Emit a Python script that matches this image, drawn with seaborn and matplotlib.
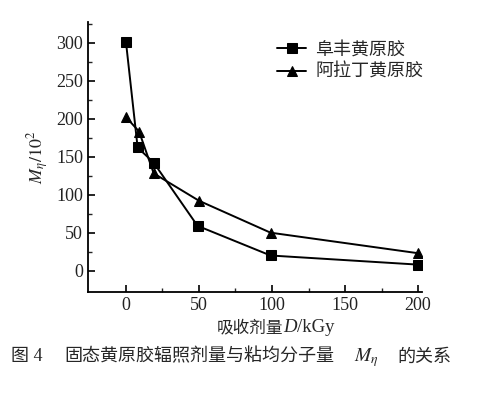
import seaborn as sns
import matplotlib.pyplot as plt
import pandas as pd

# absorbed dose (kGy) and viscosity-average molecular weight (x10^2)
dose_fufeng = [0, 8, 19, 49, 99, 200]
mw_fufeng = [301, 162, 142, 59, 20, 8]
dose_ala = [0, 9, 19, 50, 99, 200]
mw_ala = [202, 183, 128, 92, 50, 23]
series_names = ['阜丰黄原胶', '阿拉丁黄原胶']

df = pd.concat([
    pd.DataFrame({'dose': dose_fufeng, 'mw': mw_fufeng, 'sample': series_names[0]}),
    pd.DataFrame({'dose': dose_ala, 'mw': mw_ala, 'sample': series_names[1]}),
])

sns.set_style('ticks')
plt.rcParams['font.family'] = ['Liberation Serif', 'Noto Sans CJK SC']
plt.rcParams['mathtext.fontset'] = 'stix'
plt.rcParams['xtick.direction'] = 'in'
plt.rcParams['ytick.direction'] = 'in'

fig = plt.figure(figsize=(4.97, 3.93), dpi=100)
ax = fig.add_axes([0.177, 0.257, 0.673, 0.687])

sns.lineplot(data=df, x='dose', y='mw', style='sample', markers=['s', '^'],
             dashes=False, color='black', linewidth=1.4, markersize=7,
             markeredgecolor='black', ax=ax, legend=True)

ax.set_xlim(-26, 203)
ax.set_ylim(-28, 327)
ax.set_xticks([0, 50, 100, 150, 200])
ax.set_xticks(range(25, 200, 50), minor=True)
ax.set_yticks(range(0, 301, 50))
ax.set_yticks(range(25, 326, 50), minor=True)
ax.tick_params(labelsize=13, width=1.2, length=5, color='black', labelcolor='#222222')
ax.tick_params(which='minor', length=3, width=1.0)
sns.despine(ax=ax)
for s in ['left', 'bottom']:
    ax.spines[s].set_linewidth(1.3)
    ax.spines[s].set_color('black')

ax.set_xlabel('')
ax.set_ylabel(r'$M_\eta/10^2$', fontsize=13, labelpad=4)

leg = ax.legend(frameon=False, fontsize=13, handlelength=1.6,
                loc='upper left', bbox_to_anchor=(0.545, 0.955),
                borderaxespad=0, labelspacing=0.3, handletextpad=0.5)
leg.set_title(None)

fig.canvas.draw()
renderer = fig.canvas.get_renderer()


def chain(pieces, x0, y, gap=0):
    # place text pieces one after another, starting at pixel x0
    x = x0
    for txt, kw in pieces:
        t = fig.text(x / 497, 1 - y / 393, txt, va='center', ha='left', **kw)
        x = t.get_window_extent(renderer).x1 + gap


# x label: 吸收剂量 D/kGy
chain([('吸收剂量', dict(fontsize=12)),
       ('D', dict(fontsize=13.5, style='italic')),
       ('/kGy', dict(fontsize=13.5))], 217, 328)

# caption
cy = 357
fig.text(11 / 497, 1 - cy / 393, '图 4', fontsize=13, va='center', ha='left')
fig.text(64 / 497, 1 - cy / 393, '固态黄原胶辐照剂量与粘均分子量', fontsize=13, va='center', ha='left')
fig.text(354 / 497, 1 - (cy + 1) / 393, r'$M_\eta$', fontsize=14, va='center', ha='left')
fig.text(397 / 497, 1 - cy / 393, '的关系', fontsize=13, va='center', ha='left')

fig.savefig('out.png', dpi=100)
